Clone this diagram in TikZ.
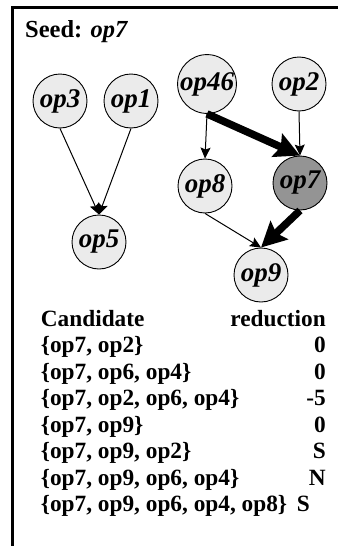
\documentclass[tikz,border=0pt]{standalone}
\usepackage{fontspec}
\setmainfont{Liberation Serif}
\usetikzlibrary{arrows.meta}
\begin{document}
\begin{tikzpicture}[x=1pt,y=-1pt,
  opnode/.style={circle, draw, line width=0.9pt, fill=black!8, minimum size=54pt,
    inner sep=0pt, font=\fontsize{27}{31}\selectfont\bfseries\itshape},
  seednode/.style={opnode, fill=black!42},
  thinedge/.style={-{Stealth[length=11pt,width=10pt,inset=2pt]}, line width=1pt},
  thickedge/.style={-{Stealth[length=25pt,width=25pt,inset=4pt]}, line width=7.5pt},
  tabtext/.style={inner sep=0pt, font=\fontsize{23.3}{28}\selectfont\bfseries},
  frameline/.style={line width=3pt}]
\useasboundingbox (0,0) rectangle (338,546);

% open frame: top and left edges only
\coordinate (fbl) at (12.5,546);
\coordinate (ftl) at (12.5,7.3);
\coordinate (ftr) at (338,7.3);
\draw[frameline] (fbl) -- (ftl) -- (ftr);

% title
\node[tabtext, font=\fontsize{24.5}{29}\selectfont\bfseries, anchor=base west] (title) at (25,37)
  {Seed: \textit{op7}};

% operation graph
\node[opnode] (op3)  at (60,101) {op3};
\node[opnode] (op1)  at (131,101) {op1};
\node[opnode] (op46) at (207,84) {op46};
\node[opnode] (op2)  at (299,84) {op2};
\node[opnode] (op8)  at (205,186) {op8};
\node[seednode] (op7) at (300,183) {op7};
\node[opnode] (op5)  at (99,242) {op5};
\node[opnode] (op9)  at (261,275) {op9};

\draw[thinedge] (op3.south) -- (op5.north);
\draw[thinedge] (op1.south) -- (op5.north);
\draw[thinedge] (op46.south) -- (op8.north);
\draw[thinedge] (op2.south) -- (op7.north);
\draw[thinedge] (op8.south) -- (op9.north);
\draw[thickedge] (op46.south) -- (op7.north);
\draw[thickedge] (op7.south) -- (op9.north);

% candidate table
\node[tabtext, anchor=base west] (hc) at (40.7,326) {Candidate};
\node[tabtext, anchor=base east] (hr) at (326,326) {reduction};
\node[tabtext, anchor=base west] (c1) at (40.7,352.5) {\{op7, op2\}};
\node[tabtext, anchor=base east] (r1) at (326,352.5) {0};
\node[tabtext, anchor=base west] (c2) at (40.7,379) {\{op7, op6, op4\}};
\node[tabtext, anchor=base east] (r2) at (326,379) {0};
\node[tabtext, anchor=base west] (c3) at (40.7,405.5) {\{op7, op2, op6, op4\}};
\node[tabtext, anchor=base east] (r3) at (326,405.5) {-5};
\node[tabtext, anchor=base west] (c4) at (40.7,432) {\{op7, op9\}};
\node[tabtext, anchor=base east] (r4) at (326,432) {0};
\node[tabtext, anchor=base west] (c5) at (40.7,458.5) {\{op7, op9, op2\}};
\node[tabtext, anchor=base east] (r5) at (326,458.5) {S};
\node[tabtext, anchor=base west] (c6) at (40.7,485) {\{op7, op9, op6, op4\}};
\node[tabtext, anchor=base east] (r6) at (326,485) {N};
\node[tabtext, anchor=base west] (c7) at (40.7,511.5) {\{op7, op9, op6, op4, op8\}};
\node[tabtext, anchor=base east] (r7) at (310,511.5) {S};
\end{tikzpicture}
\end{document}
